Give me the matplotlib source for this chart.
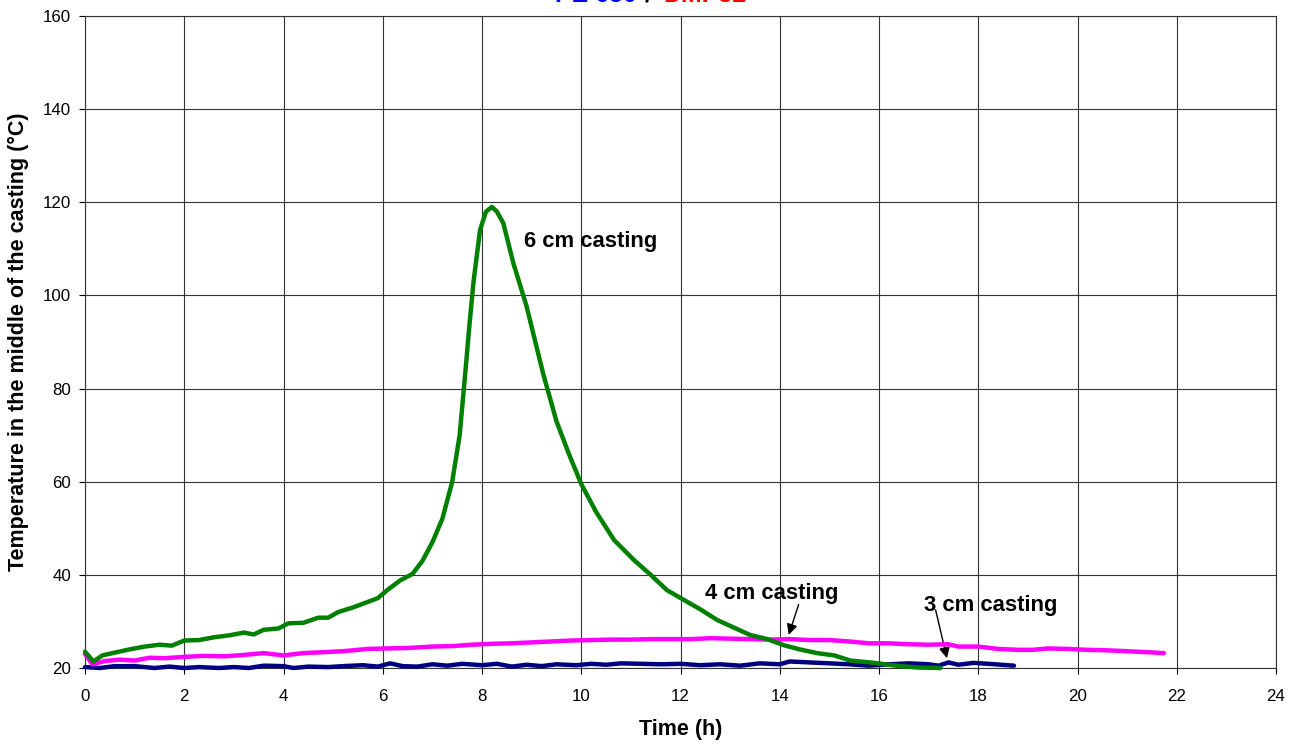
import matplotlib
matplotlib.use("Agg")
import matplotlib.pyplot as plt

plt.rcParams['font.family'] = ['Liberation Sans', 'DejaVu Sans']

# 6 cm casting
t6 = [0.0, 0.17, 0.35, 0.6, 0.9, 1.2, 1.5, 1.75, 2.0, 2.3, 2.6, 2.9, 3.2, 3.4, 3.6, 3.9,
      4.1, 4.4, 4.7, 4.9, 5.1, 5.4, 5.7, 5.9, 6.1, 6.35, 6.6, 6.8, 7.0, 7.2, 7.4, 7.55,
      7.66, 7.75, 7.83, 7.96, 8.08, 8.2, 8.3, 8.43, 8.63, 8.9, 9.23, 9.5, 9.75, 10.0,
      10.3, 10.66, 11.06, 11.4, 11.73, 12.07, 12.4, 12.74, 13.05, 13.4, 13.75, 14.08,
      14.4, 14.75, 15.1, 15.42, 15.9, 16.43, 16.8, 17.24]
T6 = [23.5, 21.4, 22.7, 23.3, 24.0, 24.6, 25.0, 24.8, 25.9, 26.0, 26.6, 27.0, 27.6, 27.2,
      28.2, 28.5, 29.6, 29.7, 30.8, 30.8, 32.0, 33.0, 34.2, 35.0, 36.8, 38.8, 40.2, 43.0,
      47.0, 52.0, 60.0, 70.0, 83.0, 94.0, 103.0, 114.0, 118.0, 119.0, 118.0, 115.5, 107.0,
      97.6, 83.3, 73.0, 66.0, 59.5, 53.5, 47.5, 43.2, 40.0, 36.7, 34.6, 32.6, 30.3, 28.8,
      27.1, 26.2, 24.9, 24.0, 23.2, 22.7, 21.6, 21.1, 20.4, 20.1, 20.0]

# 4 cm casting
t4 = [0.0, 0.15, 0.4, 0.7, 1.0, 1.3, 1.6, 2.0, 2.4, 2.8, 3.2, 3.6, 4.0, 4.4, 4.8, 5.2,
      5.7, 6.1, 6.5, 7.0, 7.4, 7.8, 8.2, 8.6, 9.0, 9.4, 9.8, 10.2, 10.6, 11.0, 11.4, 11.8,
      12.2, 12.6, 13.0, 13.4, 13.8, 14.2, 14.6, 15.0, 15.4, 15.8, 16.2, 16.6, 17.0, 17.4,
      17.6, 18.0, 18.4, 18.8, 19.1, 19.4, 19.8, 20.2, 20.6, 21.0, 21.4, 21.74]
T4 = [23.0, 20.8, 21.5, 21.8, 21.6, 22.2, 22.1, 22.4, 22.6, 22.5, 22.8, 23.2, 22.7, 23.2,
      23.4, 23.6, 24.1, 24.2, 24.3, 24.6, 24.7, 25.0, 25.2, 25.3, 25.5, 25.7, 25.9, 26.0,
      26.1, 26.1, 26.2, 26.2, 26.2, 26.4, 26.3, 26.2, 26.1, 26.2, 26.0, 26.0, 25.7, 25.3,
      25.3, 25.1, 25.0, 25.1, 24.6, 24.6, 24.1, 23.9, 23.9, 24.2, 24.1, 23.9, 23.8, 23.6,
      23.4, 23.2]

# 3 cm casting
t3 = [0.0, 0.3, 0.6, 1.0, 1.4, 1.7, 2.0, 2.3, 2.7, 3.0, 3.3, 3.6, 4.0, 4.2, 4.5, 4.9,
      5.2, 5.6, 5.9, 6.15, 6.4, 6.7, 7.0, 7.3, 7.6, 8.0, 8.3, 8.6, 8.9, 9.2, 9.5, 9.9,
      10.2, 10.5, 10.8, 11.2, 11.6, 12.0, 12.4, 12.8, 13.2, 13.6, 14.0, 14.2, 14.6, 15.0,
      15.4, 15.8, 16.2, 16.6, 17.0, 17.2, 17.4, 17.6, 17.9, 18.2, 18.72]
T3 = [20.2, 20.0, 20.4, 20.4, 20.0, 20.3, 20.0, 20.2, 20.0, 20.2, 20.0, 20.5, 20.4, 20.0,
      20.3, 20.2, 20.4, 20.6, 20.3, 21.0, 20.4, 20.3, 20.8, 20.5, 20.9, 20.6, 20.9, 20.3,
      20.7, 20.4, 20.8, 20.6, 20.9, 20.7, 21.0, 20.9, 20.8, 20.9, 20.6, 20.8, 20.5, 21.0,
      20.8, 21.4, 21.2, 21.0, 20.8, 20.5, 20.8, 21.0, 20.8, 20.5, 21.2, 20.7, 21.1, 20.9,
      20.5]

xticks = list(range(0, 25, 2))
yticks = list(range(20, 161, 20))

fig = plt.figure(figsize=(13.02, 7.47), dpi=100)
ax = fig.add_axes([85/1302, 1-668/747, (1276-85)/1302, (668-16)/747])

ax.plot(t3, T3, color='#000080', lw=3.2, clip_on=False, zorder=3, solid_capstyle='round')
ax.plot(t4, T4, color='#FF00FF', lw=3.2, clip_on=False, zorder=4, solid_capstyle='round')
ax.plot(t6, T6, color='#008000', lw=3.2, clip_on=False, zorder=5, solid_capstyle='round')

ax.set_xlim(0, 24)
ax.set_ylim(20, 160)
ax.set_xticks(xticks)
ax.set_yticks(yticks)
ax.tick_params(axis='both', direction='out', length=4.5, width=0.8, labelsize=12.2, colors='black')
ax.tick_params(axis='x', pad=10.5)
ax.tick_params(axis='y', pad=5.5)
ax.grid(True, color='#333333', lw=0.8)
ax.set_axisbelow(True)
for s in ax.spines.values():
    s.set_color('#333333')
    s.set_linewidth(0.8)

ax.set_xlabel('Time (h)', fontsize=15.5, fontweight='bold', labelpad=11)
ax.set_ylabel('Temperature in the middle of the casting (°C)', fontsize=15.5, fontweight='bold', labelpad=10)

ax.text(10.18, 111.5, '6 cm casting', fontsize=15.8, fontweight='bold', ha='center', va='center')
ax.text(13.83, 35.9, '4 cm casting', fontsize=15.8, fontweight='bold', ha='center', va='center')
ax.text(18.25, 33.4, '3 cm casting', fontsize=15.8, fontweight='bold', ha='center', va='center')
ax.annotate('', xy=(14.18, 27.1), xytext=(14.38, 33.6),
            arrowprops=dict(arrowstyle='-|>', color='black', lw=1, mutation_scale=16,
                            shrinkA=0, shrinkB=0))
ax.annotate('', xy=(17.37, 22.1), xytext=(17.14, 32.5),
            arrowprops=dict(arrowstyle='-|>', color='black', lw=1, mutation_scale=16,
                            shrinkA=0, shrinkB=0))

# title (cut off at the top, as in the reference)
ty = 1 - 1.5/747
fig.text(637/1302, ty, 'PE 650', color='#0000FF', fontsize=18, fontweight='bold', ha='right', va='baseline')
fig.text(648/1302, ty, '/', color='black', fontsize=18, fontweight='bold', ha='center', va='baseline')
fig.text(663/1302, ty, 'DMP32', color='#FF0000', fontsize=18, fontweight='bold', ha='left', va='baseline')

fig.savefig('out.png', dpi=100)
